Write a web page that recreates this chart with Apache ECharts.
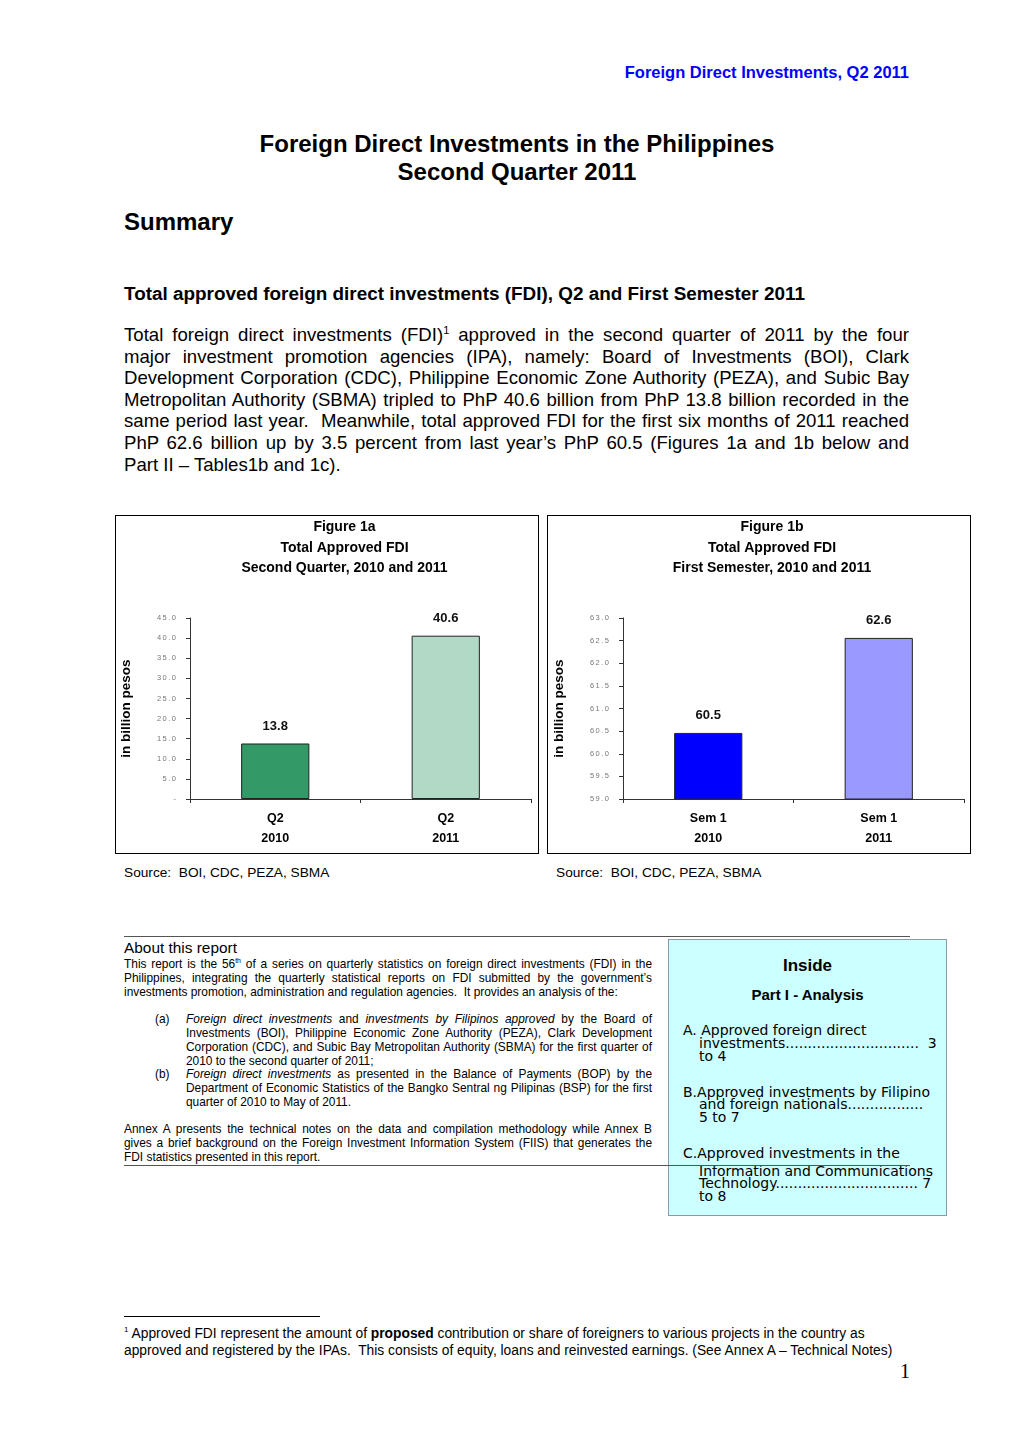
<!DOCTYPE html>
<html>
<head>
<meta charset="utf-8">
<script src="https://cdn.jsdelivr.net/npm/echarts@6/dist/echarts.min.js"></script>
<style>
  html, body { margin:0; padding:0; background:#fff; }
  body { width:1020px; height:1443px; position:relative; overflow:hidden; font-family:"Liberation Sans", Arial, sans-serif; color:#000; }
  .abs { position:absolute; white-space:nowrap; }
  .j { text-align:justify; text-align-last:justify; }
  .box { position:absolute; border:1px solid #000; box-sizing:border-box; }
  .chart { position:absolute; left:0; top:0; }
  .ins { position:absolute; font-family:"DejaVu Sans", sans-serif; font-size:14px; line-height:13px; white-space:pre; }
</style>
</head>
<body>
<div class="abs" style="right:111px; top:62px; font-size:16.5px; font-weight:bold; color:#0000FF; line-height:20px;">Foreign Direct Investments, Q2 2011</div>

<div class="abs" style="left:117px; width:800px; top:130px; text-align:center; font-size:24px; font-weight:bold; line-height:28px;">Foreign Direct Investments in the Philippines<br>Second Quarter 2011</div>

<div class="abs" style="left:124px; top:208px; font-size:24px; font-weight:bold; line-height:28px;">Summary</div>

<div class="abs" style="left:124px; top:283px; font-size:18.9px; font-weight:bold; line-height:22px;">Total approved foreign direct investments (FDI), Q2 and First Semester 2011</div>

<div class="abs" style="left:124px; top:324px; width:785px; font-size:18.6px; line-height:21.6px;">
  <div class="j">Total foreign direct investments (FDI)<sup style="font-size:11px; line-height:0;">1</sup> approved in the second quarter of 2011 by the four</div>
  <div class="j">major investment promotion agencies (IPA), namely: Board of Investments (BOI), Clark</div>
  <div class="j">Development Corporation (CDC), Philippine Economic Zone Authority (PEZA), and Subic Bay</div>
  <div class="j">Metropolitan Authority (SBMA) tripled to PhP 40.6 billion from PhP 13.8 billion recorded in the</div>
  <div class="j">same period last year.&nbsp; Meanwhile, total approved FDI for the first six months of 2011 reached</div>
  <div class="j">PhP 62.6 billion up by 3.5 percent from last year’s PhP 60.5 (Figures 1a and 1b below and</div>
  <div>Part II – Tables1b and 1c).</div>
</div>

<div class="box" style="left:115px; top:515px; width:424px; height:339px;"><div id="c1" class="chart" style="width:422px; height:337px;"></div></div>
<div class="box" style="left:547px; top:515px; width:424px; height:339px;"><div id="c2" class="chart" style="width:422px; height:337px;"></div></div>

<div class="abs" style="left:124px; top:865px; font-size:13.7px; line-height:16px;">Source:&nbsp; BOI, CDC, PEZA, SBMA</div>
<div class="abs" style="left:556px; top:865px; font-size:13.7px; line-height:16px;">Source:&nbsp; BOI, CDC, PEZA, SBMA</div>

<!-- About this report -->
<div class="abs" style="left:668px; top:939px; width:279px; height:277px; background:#CCFFFF; border:1px solid #8a9aa8; box-sizing:border-box;"></div>
<div class="abs" style="left:124px; top:936px; width:786px; height:0; border-top:1px solid #555;"></div>
<div class="abs" style="left:124px; top:939px; font-size:15.4px; line-height:18px;">About this report</div>
<div class="abs" style="left:124px; top:957px; width:528px; font-size:11.9px; line-height:14px;">
  <div class="j">This report is the 56<sup style="font-size:7px; line-height:0;">th</sup> of a series on quarterly statistics on foreign direct investments (FDI) in the</div>
  <div class="j">Philippines, integrating the quarterly statistical reports on FDI submitted by the government’s</div>
  <div>investments promotion, administration and regulation agencies.&nbsp; It provides an analysis of the:</div>
</div>
<div class="abs" style="left:155px; top:1012px; font-size:11.9px; line-height:14px;">(a)</div>
<div class="abs" style="left:186px; top:1012px; width:466px; font-size:11.9px; line-height:14px;">
  <div class="j"><i>Foreign direct investments</i> and <i>investments by Filipinos approved</i> by the Board of</div>
  <div class="j">Investments (BOI), Philippine Economic Zone Authority (PEZA), Clark Development</div>
  <div class="j">Corporation (CDC), and Subic Bay Metropolitan Authority (SBMA) for the first quarter of</div>
  <div>2010 to the second quarter of 2011;</div>
</div>
<div class="abs" style="left:155px; top:1067px; font-size:11.9px; line-height:14px;">(b)</div>
<div class="abs" style="left:186px; top:1067px; width:466px; font-size:11.9px; line-height:14px;">
  <div class="j"><i>Foreign direct investments</i> as presented in the Balance of Payments (BOP) by the</div>
  <div class="j">Department of Economic Statistics of the Bangko Sentral ng Pilipinas (BSP) for the first</div>
  <div>quarter of 2010 to May of 2011.</div>
</div>
<div class="abs" style="left:124px; top:1122px; width:528px; font-size:11.9px; line-height:14px;">
  <div class="j">Annex A presents the technical notes on the data and compilation methodology while Annex B</div>
  <div class="j">gives a brief background on the Foreign Investment Information System (FIIS) that generates the</div>
  <div>FDI statistics presented in this report.</div>
</div>

<!-- Inside box texts -->
<div class="abs" style="left:668px; width:279px; top:956px; text-align:center; font-size:17px; font-weight:bold; line-height:20px;">Inside</div>
<div class="abs" style="left:668px; width:279px; top:986px; text-align:center; font-size:15px; font-weight:bold; line-height:18px;">Part I - Analysis</div>
<div class="ins" style="left:683px; top:1024px;">A. Approved foreign direct</div>
<div class="ins" style="left:699px; top:1037px;">investments..............................  3</div>
<div class="ins" style="left:699px; top:1050px;">to 4</div>
<div class="ins" style="left:683px; top:1086px;">B.Approved investments by Filipino</div>
<div class="ins" style="left:699px; top:1098px;">and foreign nationals.................</div>
<div class="ins" style="left:699px; top:1111px;">5 to 7</div>
<div class="ins" style="left:683px; top:1147px;">C.Approved investments in the</div>
<div class="ins" style="left:699px; top:1165px;">Information and Communications</div>
<div class="ins" style="left:699px; top:1177px;">Technology................................ 7</div>
<div class="ins" style="left:699px; top:1190px;">to 8</div>
<div class="abs" style="left:124px; top:1165px; width:786px; height:0; border-top:1px solid #555;"></div>

<!-- Footnote -->
<div class="abs" style="left:124px; top:1316px; width:196px; height:0; border-top:1px solid #000;"></div>
<div class="abs" style="left:124px; top:1326px; font-size:13.8px; line-height:16.5px;">
  <div><sup style="font-size:8px; line-height:0;">1</sup> Approved FDI represent the amount of <b>proposed</b> contribution or share of foreigners to various projects in the country as</div>
  <div>approved and registered by the IPAs.&nbsp; This consists of equity, loans and reinvested earnings. (See Annex A – Technical Notes)</div>
</div>
<div class="abs" style="left:900px; top:1359px; font-family:'Liberation Serif', serif; font-size:20px; line-height:24px;">1</div>

<script>
// ---- data ----
var cats1a = ['Q2\n2010', 'Q2\n2011'];
var vals1a = [13.8, 40.6];
var colors1a = ['#339966', '#B2D9C5'];
var ticks1a = { min: 0, max: 45, interval: 5 };

var cats1b = ['Sem 1\n2010', 'Sem 1\n2011'];
var vals1b = [60.46, 62.56];
var colors1b = ['#0000FF', '#9999FF'];
var ticks1b = { min: 59, max: 63, interval: 0.5 };

var titles = [
  'Figure 1a\nTotal Approved FDI\nSecond Quarter, 2010 and 2011',
  'Figure 1b\nTotal Approved FDI\nFirst Semester, 2010 and 2011'
];
var yName = 'in billion pesos';

function tickFmt(v) {
  if (v === 0) return '-';
  return v.toFixed(1).split('').join('\u2009');
}

function makeOption(title, titleX, cats, vals, cols, tk, gridLeft, gridRight) {
  return {
    animation: false,
    graphic: [{
      type: 'text', x: titleX, y: 1,
      style: {
        text: title, textAlign: 'center', textVerticalAlign: 'top',
        fontFamily: 'Liberation Sans', fontSize: 14, fontWeight: 'bold', lineHeight: 20.5, fill: '#000'
      }
    }],
    grid: { left: gridLeft, right: gridRight, top: 102, bottom: 54, containLabel: false, outerBoundsMode: 'none' },
    xAxis: {
      type: 'category', data: cats,
      axisLine: { show: true, lineStyle: { color: '#333', width: 1 } },
      axisTick: { show: true, length: 4, lineStyle: { color: '#333' } },
      axisLabel: { margin: 10, fontFamily: 'Liberation Sans', fontSize: 12.5, fontWeight: 'bold', lineHeight: 20, color: '#000' }
    },
    yAxis: {
      type: 'value', min: tk.min, max: tk.max, interval: tk.interval,
      name: yName, nameLocation: 'middle', nameRotate: 90, nameGap: 57,
      nameTextStyle: { fontFamily: 'Liberation Sans', fontSize: 13.5, fontWeight: 'bold', color: '#000' },
      axisLine: { show: true, lineStyle: { color: '#333', width: 1 } },
      axisTick: { show: true, length: 4, lineStyle: { color: '#333' } },
      splitLine: { show: false },
      axisLabel: { margin: 14, formatter: tickFmt, fontFamily: 'Liberation Sans', fontSize: 7.5, color: '#777' }
    },
    series: [{
      type: 'bar', barWidth: '40%',
      data: vals.map(function (v, i) {
        return { value: v, itemStyle: { color: cols[i], borderColor: '#222', borderWidth: 1 } };
      }),
      label: {
        show: true, position: 'top', distance: 11,
        formatter: function (p) { return p.value.toFixed(1); },
        fontFamily: 'Liberation Sans', fontSize: 13, fontWeight: 'bold', color: '#111'
      }
    }]
  };
}

var c1 = echarts.init(document.getElementById('c1'));
c1.setOption(makeOption(titles[0], 228.5, cats1a, vals1a, colors1a, ticks1a, 74, 7));
var c2 = echarts.init(document.getElementById('c2'));
c2.setOption(makeOption(titles[1], 224, cats1b, vals1b, colors1b, ticks1b, 75, 6));
</script>
</body>
</html>
